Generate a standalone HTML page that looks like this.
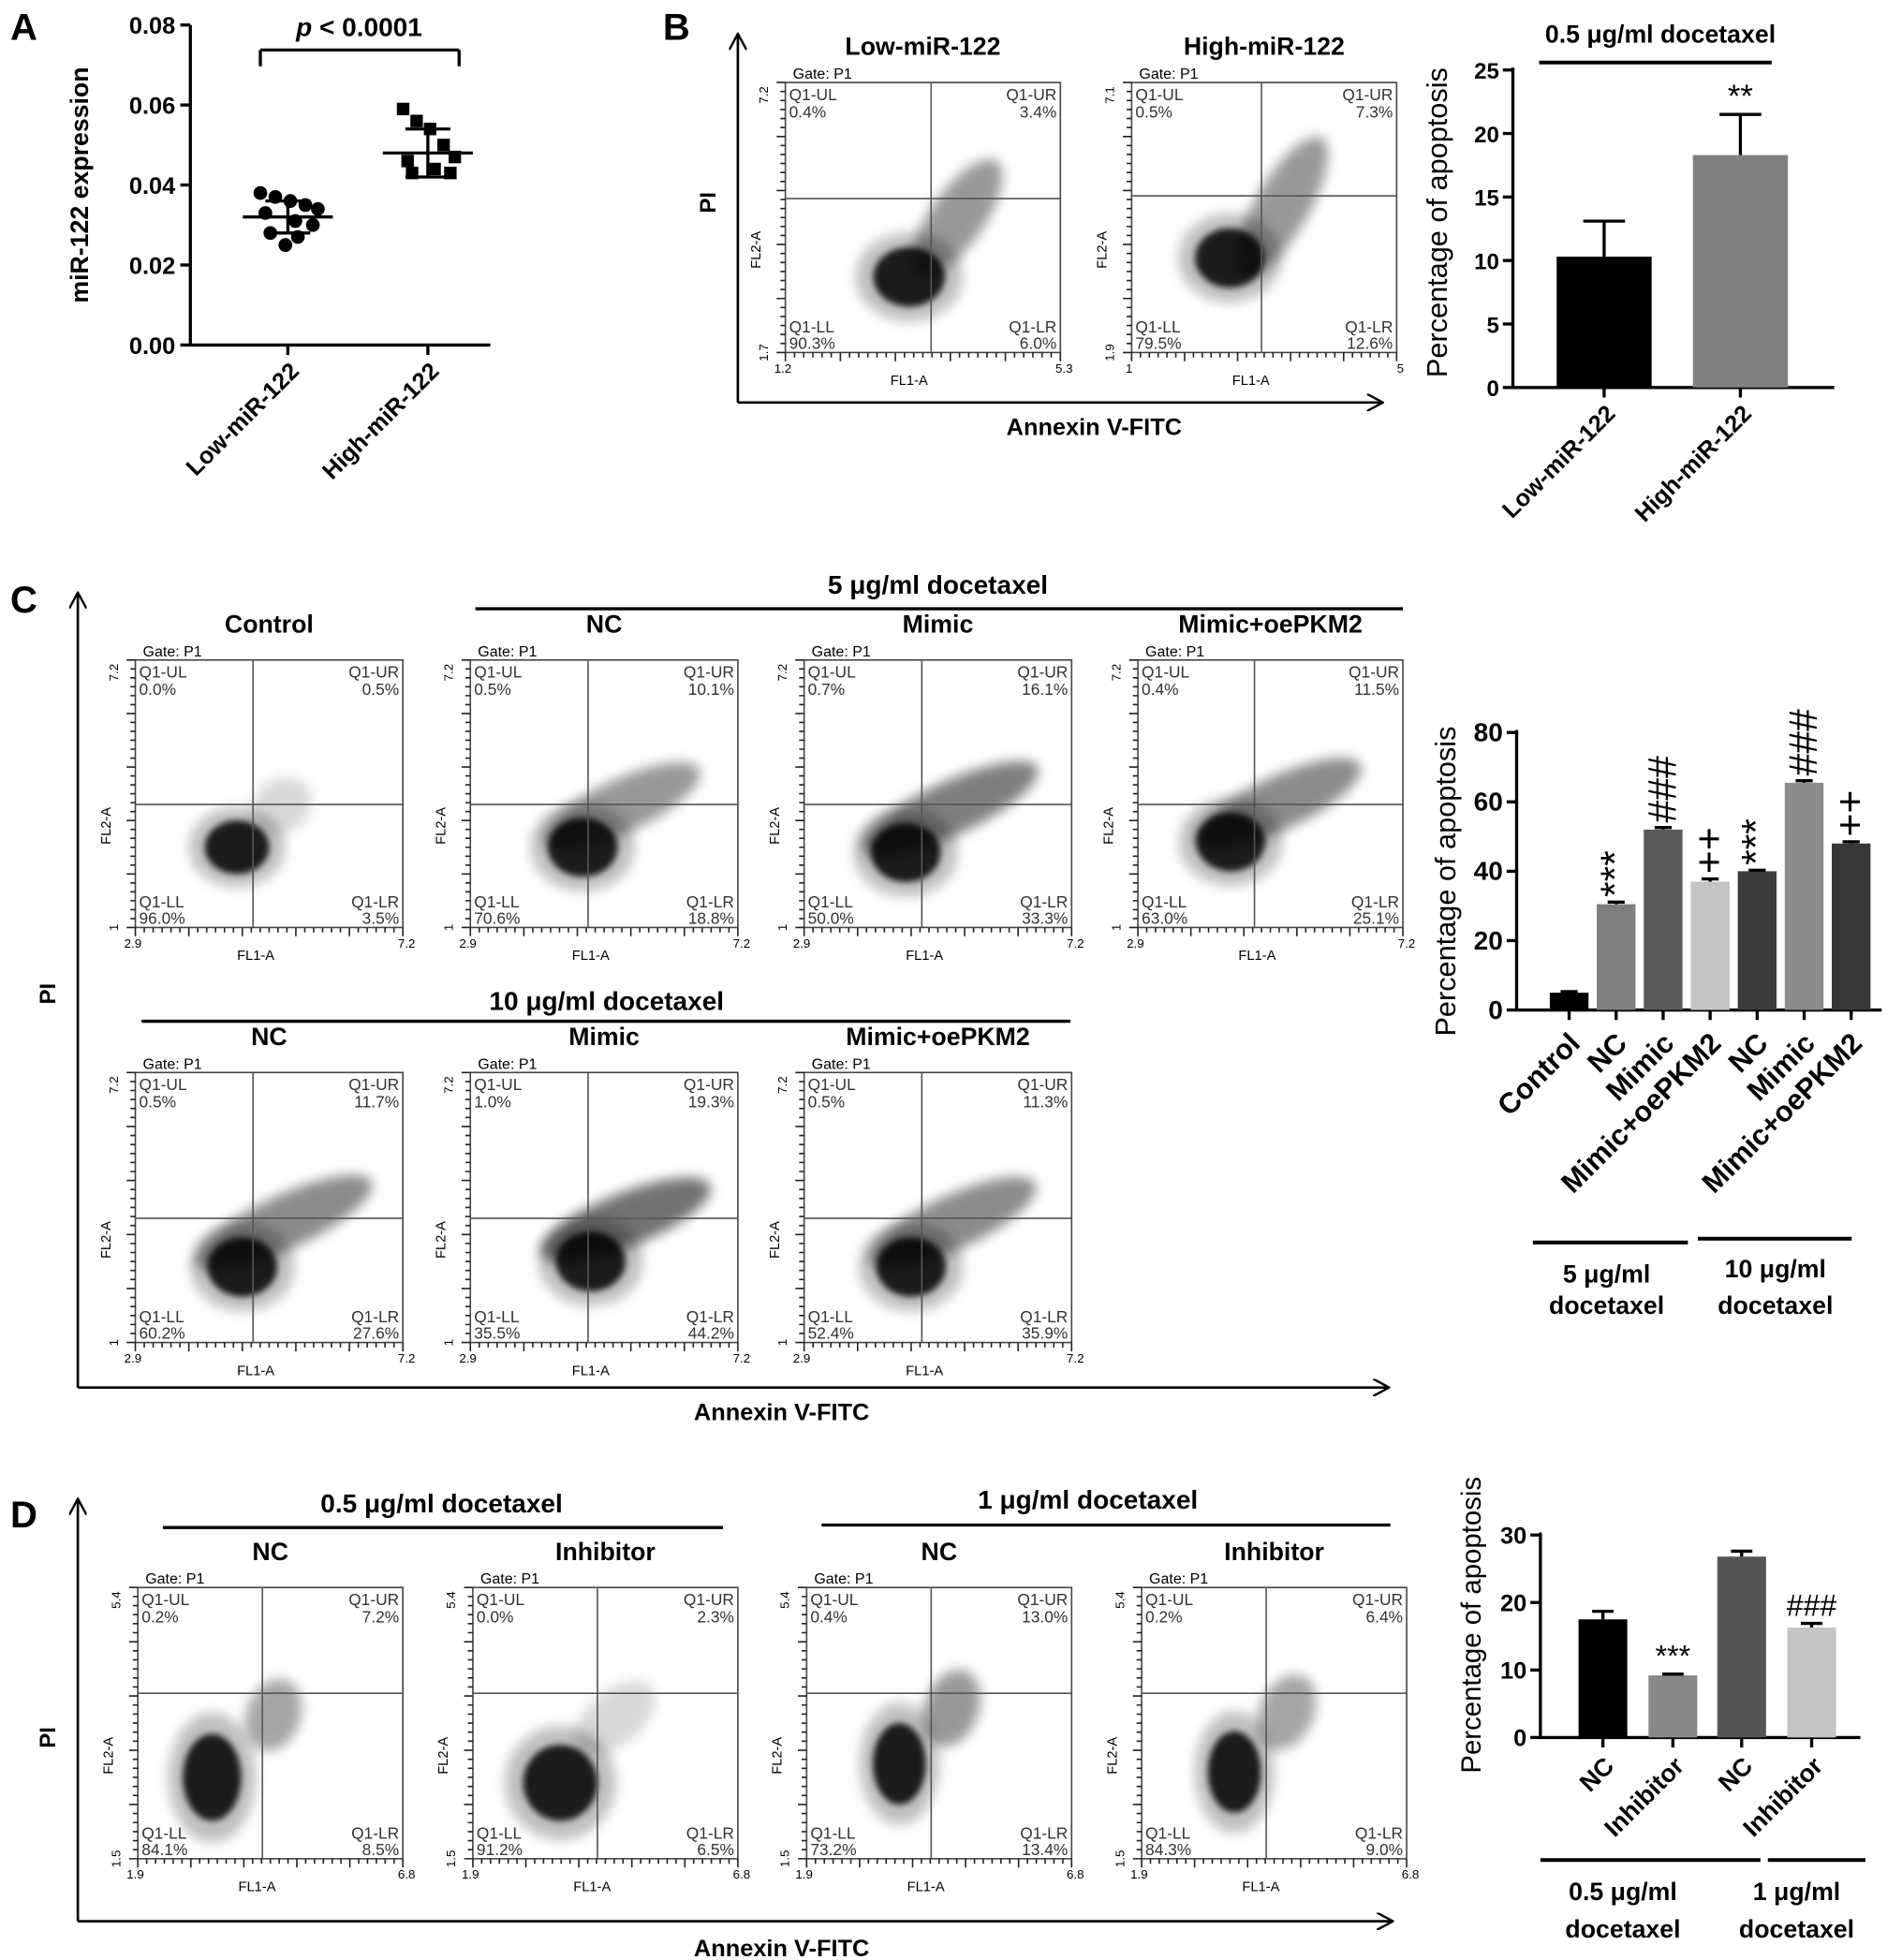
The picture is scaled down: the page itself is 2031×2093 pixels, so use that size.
<!DOCTYPE html>
<html><head><meta charset="utf-8"><style>
html,body{margin:0;padding:0;background:#fff}
svg{display:block;font-family:"Liberation Sans",Arial,sans-serif}
</style></head><body>
<svg id="fig" width="2031" height="2093" viewBox="0 0 1521 1568" xmlns="http://www.w3.org/2000/svg">
<defs>
<filter id="blur" x="-50%" y="-50%" width="200%" height="200%"><feGaussianBlur stdDeviation="5"/></filter>
<filter id="blur2" x="-50%" y="-50%" width="200%" height="200%"><feGaussianBlur stdDeviation="2.5"/></filter>
<marker id="arr" markerWidth="14" markerHeight="14" refX="12" refY="7" orient="auto" markerUnits="userSpaceOnUse"><path d="M0,0 L13,7 L0,14" fill="none" stroke="#000" stroke-width="1.8"/></marker>
</defs>
<g id="root"></g>
</svg>
<script>
// ---- Panel A data
const aGroups=['Low-miR-122','High-miR-122'];
const aLow=[0.038,0.037,0.036,0.035,0.034,0.033,0.031,0.030,0.028,0.027,0.025];
const aHigh=[0.059,0.056,0.054,0.050,0.047,0.046,0.044,0.043,0.043];
const aMean=[0.032,0.048];
const aSD=[0.004,0.006];
const aTicks=[0,0.02,0.04,0.06,0.08];
// ---- Panel B bar data
const bCats=['Low-miR-122','High-miR-122'];
const bVals=[10.3,18.3];
const bErr=[2.8,3.2];
const bTicks=[0,5,10,15,20,25];
// ---- Panel C bar data
const cCats=['Control','NC','Mimic','Mimic+oePKM2','NC','Mimic','Mimic+oePKM2'];
const cVals=[5,30.5,52,37,40,65.5,48];
const cErr=[0.3,0.6,0.6,0.8,0.3,0.6,0.5];
const cMarks=['','***','###','++','***','###','++'];
const cTicks=[0,20,40,60,80];
// ---- Panel D bar data
const dCats=['NC','Inhibitor','NC','Inhibitor'];
const dVals=[17.5,9.2,26.8,16.3];
const dErr=[1.2,0.2,0.8,0.6];
const dMarks=['','***','','###'];
const dTicks=[0,10,20,30];

const NS='http://www.w3.org/2000/svg';
const root=document.getElementById('root');
function el(tag,attrs,parent,text){const e=document.createElementNS(NS,tag);for(const k in attrs)e.setAttribute(k,attrs[k]);if(text!==undefined)e.textContent=text;(parent||root).appendChild(e);return e;}
function line(x1,y1,x2,y2,w,p,name){const e=el('line',{x1,y1,x2,y2,stroke:'#000','stroke-width':w||2},p);

return e;}
function txt(x,y,s,size,p,opt,name){opt=opt||{};const a={x,y,'font-size':size,'text-anchor':opt.anchor||'middle',fill:opt.fill||'#000'};if(opt.bold)a['font-weight']='bold';if(opt.rot)a.transform='rotate('+opt.rot+' '+x+' '+y+')';if(opt.italic)a['font-style']='italic';const e=el('text',a,p,s);

return e;}

[['A',8,32],['B',530,32],['C',8,490],['D',8,1222]].forEach(l=>txt(l[1],l[2],l[0],30,null,{bold:1,anchor:'start'},'panel-letter-'+l[0].toLowerCase()));

// ---- Panel A
(function(){
const g=el('g',{});
const x0=152,y0=276,yTop=20,xEnd=392;
const ys=v=>y0-(v/0.08)*(y0-yTop);
const xs=i=>[230,342][i];
line(x0,yTop,x0,y0+1,2.5,g,'y-axis');line(x0-1,y0,xEnd,y0,2.5,g,'x-axis');
aTicks.forEach(t=>{line(x0-8,ys(t),x0,ys(t),2.5,g,'y-tick');txt(x0-12,ys(t)+7,t.toFixed(2),19,g,{bold:1,anchor:'end'},'y-tick-label');});
aGroups.forEach((c,i)=>{line(xs(i),y0,xs(i),y0+8,2.5,g,'x-tick');txt(xs(i)+10,y0+22,c,19,g,{bold:1,anchor:'end',rot:-45},'x-tick-label');});
txt(70,148,'miR-122 expression',20,g,{bold:1,rot:-90},'y-axis-title');
const offs=[-22,-10,2,14,24,-18,6,20,-14,8,-2];
[aLow,aHigh].forEach((arr,i)=>arr.forEach((v,j)=>{const cx=xs(i)+offs[j%offs.length]*(i?0.9:1);
 if(i===0){const c=el('circle',{cx,cy:ys(v),r:5.5,fill:'#000'},g);}
 else{const r=el('rect',{x:cx-5,y:ys(v)-5,width:10,height:10,fill:'#000'},g);}}));
aMean.forEach((m,i)=>{const x=xs(i);line(x-36,ys(m),x+36,ys(m),2.5,g,'mean-line');line(x,ys(m-aSD[i]),x,ys(m+aSD[i]),2.5,g,'sd-bar');line(x-18,ys(m-aSD[i]),x+18,ys(m-aSD[i]),2.5,g,'sd-cap');line(x-18,ys(m+aSD[i]),x+18,ys(m+aSD[i]),2.5,g,'sd-cap');});
line(208,40,367,40,2.5,g,'significance-bracket');line(208,40,208,53,2.5,g,'bracket-leg');line(367,40,367,53,2.5,g,'bracket-leg');
const t=el('text',{x:287,y:29,'font-size':21,'font-weight':'bold','text-anchor':'middle'},g);
el('tspan',{'font-style':'italic'},t,'p');el('tspan',{},t,' < 0.0001');
})();

// ---- Flow plot helper
function flow(x,y,w,h,qxFrac,qyFrac,title,vals,xr,yr,shape,name){
 const g=el('g',{});
 if(title)txt(x+w/2,y-22,title,20,g,{bold:1},'flow-plot-title');
 txt(x+6,y-3,'Gate: P1',12,g,{anchor:'start'},'gate-label');
 const r=el('rect',{x,y,width:w,height:h,fill:'none',stroke:'#444','stroke-width':1.2},g);
 const qx=x+w*qxFrac,qy=y+h*qyFrac;
 const s=shape||{};
 const cx=x+w*(s.cx||0.33),cy=y+h*(s.cy||0.75);
 const gc=el('g',{},g);
 const tx=(cx+qx+w*0.18)/2+10,ty=(cy+qy-h*0.15)/2;
 el('ellipse',{cx:tx,cy:ty,rx:w*(s.tl||0.28),ry:h*0.10,transform:`rotate(${s.ang||-35} ${tx} ${ty})`,fill:'#000',opacity:s.to||0.35,filter:'url(#blur)'},gc);
 el('ellipse',{cx,cy,rx:w*(s.rx||0.13),ry:h*(s.ry||0.11),fill:'#000',opacity:0.85,filter:'url(#blur2)'},gc);
 el('ellipse',{cx,cy,rx:w*(s.rx||0.13)*1.5,ry:h*(s.ry||0.11)*1.5,fill:'#000',opacity:0.25,filter:'url(#blur)'},gc);
 line(qx,y,qx,y+h,1.2,g,'quadrant-vline').setAttribute('stroke','#555');
 line(x,qy,x+w,qy,1.2,g,'quadrant-hline').setAttribute('stroke','#555');
 const f=13;
 txt(x+3,y+14,'Q1-UL',f,g,{anchor:'start',fill:'#333'},'quadrant-label');txt(x+3,y+28,vals[0],f,g,{anchor:'start',fill:'#333'},'quadrant-value');
 txt(x+w-3,y+14,'Q1-UR',f,g,{anchor:'end',fill:'#333'},'quadrant-label');txt(x+w-3,y+28,vals[1],f,g,{anchor:'end',fill:'#333'},'quadrant-value');
 txt(x+3,y+h-16,'Q1-LL',f,g,{anchor:'start',fill:'#333'},'quadrant-label');txt(x+3,y+h-3,vals[2],f,g,{anchor:'start',fill:'#333'},'quadrant-value');
 txt(x+w-3,y+h-16,'Q1-LR',f,g,{anchor:'end',fill:'#333'},'quadrant-label');txt(x+w-3,y+h-3,vals[3],f,g,{anchor:'end',fill:'#333'},'quadrant-value');
 let dx='',dy='';
 for(let i=0;i<=30;i++){const tx2=x+w*i/30;dx+=`M${tx2},${y+h}v${i%6?4:7}`;const ty2=y+h*i/30;dy+=`M${x},${ty2}h${i%6?-4:-7}`;}
 const tk=el('path',{d:dx+dy,stroke:'#222','stroke-width':1.2,fill:'none'},g);
 txt(x-2,y+h+16,xr[0],10,g,{},'x-range-min');txt(x+w+3,y+h+16,xr[1],10,g,{},'x-range-max');
 txt(x-14,y+h,yr[0],10,g,{rot:-90},'y-range-min');txt(x-14,y+10,yr[1],10,g,{rot:-90},'y-range-max');
 txt(x+w*0.45,y+h+26,'FL1-A',11,g,{},'x-axis-label');
 txt(x-20,y+h*0.62,'FL2-A',11,g,{rot:-90},'y-axis-label');
 return g;
}
function arrowAxes(x,yTop,yBot,xEnd,name){const a=el('line',{x1:x,y1:yBot,x2:x,y2:yTop,stroke:'#000','stroke-width':2,'marker-end':'url(#arr)'});
const b=el('line',{x1:x,y1:yBot,x2:xEnd,y2:yBot,stroke:'#000','stroke-width':2,'marker-end':'url(#arr)'});}

// ---- Panel B flows
arrowAxes(590,28,322,1105,'panel-b');
txt(572,162,'PI',18,null,{bold:1,rot:-90},'pi-axis-title');
txt(875,348,'Annexin V-FITC',19,null,{bold:1},'annexin-axis-title');
flow(628,66,220,216,0.53,0.43,'Low-miR-122',['0.4%','3.4%','90.3%','6.0%'],['1.2','5.3'],['1.7','7.2'],{cx:0.45,cy:0.72,tl:0.25,ang:-55,to:0.4},'flow-low-mir122');
flow(905,66,212,216,0.49,0.42,'High-miR-122',['0.5%','7.3%','79.5%','12.6%'],['1','5'],['1.9','7.1'],{cx:0.37,cy:0.65,tl:0.3,ang:-60,to:0.4},'flow-high-mir122');

// ---- Bar chart helper
function bars(opt){
 const g=el('g',{});
 const ys=v=>opt.y0-(v/opt.max)*(opt.y0-opt.yTop);
 line(opt.x0,opt.yTop-2,opt.x0,opt.y0+1,2.5,g,'y-axis');line(opt.x0-1,opt.y0,opt.xEnd,opt.y0,2.5,g,'x-axis');
 opt.ticks.forEach(t=>{line(opt.x0-8,ys(t),opt.x0,ys(t),2.5,g,'y-tick');txt(opt.x0-11,ys(t)+7,String(t),opt.fs,g,{bold:1,anchor:'end'},'y-tick-label');});
 txt(opt.titleX,opt.titleY,'Percentage of apoptosis',opt.tfs,g,{rot:-90},'y-axis-title');
 opt.vals.forEach((v,i)=>{const cx=opt.x(i),w=opt.bw;
  const r=el('rect',{x:cx-w/2,y:ys(v),width:w,height:opt.y0-ys(v),fill:opt.colors[i]},g);
  
  
  const e=opt.err[i];line(cx,ys(v),cx,ys(v+e),2.5,g,'error-bar');line(cx-w*0.22,ys(v+e),cx+w*0.22,ys(v+e),2.5,g,'error-cap');
  line(cx,opt.y0,cx,opt.y0+8,2.5,g,'x-tick');
  txt(cx+opt.lo,opt.y0+opt.ly,opt.cats[i],opt.lfs,g,{bold:1,anchor:'end',rot:-45},'x-tick-label');
  const m=opt.marks?opt.marks[i]:'';
  if(m){if(opt.vertMarks)txt(cx+10,ys(v+e)-4,m,opt.mfs,g,{anchor:'start',rot:-90},'significance-mark');
   else txt(cx,ys(v+e)-6,m,opt.mfs,g,{},'significance-mark');}
 });
 return ys;
}
bars({name:'panel-b-bar-chart',x0:1210,xEnd:1467,yTop:56,y0:310,max:25,ticks:bTicks,vals:bVals,err:bErr,cats:bCats,colors:['#000','#808080'],
 x:i=>[1283,1392][i],bw:76,fs:18,tfs:23,titleX:1157,titleY:178,lo:10,ly:22,lfs:19,marks:['','**'],mfs:26});
txt(1328,34,'0.5 μg/ml docetaxel',20,null,{bold:1},'panel-b-condition-label');
line(1231,50,1417,50,3,null,'panel-b-condition-line');

// ---- Panel C flows
arrowAxes(62,475,1110,1110,'panel-c');
txt(44,795,'PI',18,null,{bold:1,rot:-90},'pi-axis-title');
txt(625,1136,'Annexin V-FITC',19,null,{bold:1},'annexin-axis-title');
txt(750,475,'5 μg/ml docetaxel',21,null,{bold:1},'panel-c-5ug-label');line(380,487,1122,487,2.5,null,'panel-c-5ug-line');
txt(485,808,'10 μg/ml docetaxel',21,null,{bold:1},'panel-c-10ug-label');line(113,817,856,817,2.5,null,'panel-c-10ug-line');
const cR=['2.9','7.2'],cY=['1','7.2'];
flow(108,528,214,214,0.44,0.54,'Control',['0.0%','0.5%','96.0%','3.5%'],cR,cY,{cx:0.38,cy:0.7,tl:0.12,to:0.15,rx:0.12,ry:0.1},'flow-control');
flow(376,528,214,214,0.44,0.54,'NC',['0.5%','10.1%','70.6%','18.8%'],cR,cY,{cx:0.42,cy:0.7,tl:0.32,to:0.4,ang:-25},'flow-5ug-nc');
flow(643,528,214,214,0.44,0.54,'Mimic',['0.7%','16.1%','50.0%','33.3%'],cR,cY,{cx:0.38,cy:0.72,tl:0.36,to:0.5,ang:-25},'flow-5ug-mimic');
flow(910,528,212,214,0.44,0.54,'Mimic+oePKM2',['0.4%','11.5%','63.0%','25.1%'],cR,cY,{cx:0.35,cy:0.68,tl:0.34,to:0.45,ang:-25},'flow-5ug-mimic-oepkm2');
flow(108,858,214,216,0.44,0.54,'NC',['0.5%','11.7%','60.2%','27.6%'],cR,cY,{cx:0.4,cy:0.72,tl:0.36,to:0.45,ang:-25},'flow-10ug-nc');
flow(376,858,214,216,0.44,0.54,'Mimic',['1.0%','19.3%','35.5%','44.2%'],cR,cY,{cx:0.45,cy:0.7,tl:0.34,to:0.55,ang:-22},'flow-10ug-mimic');
flow(643,858,214,216,0.44,0.54,'Mimic+oePKM2',['0.5%','11.3%','52.4%','35.9%'],cR,cY,{cx:0.4,cy:0.72,tl:0.34,to:0.45,ang:-25},'flow-10ug-mimic-oepkm2');

bars({name:'panel-c-bar-chart',x0:1213,xEnd:1505,yTop:586,y0:808,max:80,ticks:cTicks,vals:cVals,err:cErr,cats:cCats,colors:['#000','#808080','#5a5a5a','#c4c4c4','#3c3c3c','#8a8a8a','#383838'],
 x:i=>1255+i*37.6,bw:31,fs:21,tfs:23,titleX:1164,titleY:705,lo:10,ly:28,lfs:23,marks:cMarks,vertMarks:true,mfs:32});
line(1226,994,1350,994,3,null,'panel-c-5ug-group-line');line(1358,991,1481,991,3,null,'panel-c-10ug-group-line');
txt(1285,1026,'5 μg/ml',20,null,{bold:1},'group-label');txt(1285,1051,'docetaxel',20,null,{bold:1},'group-label');
txt(1420,1022,'10 μg/ml',20,null,{bold:1},'group-label');txt(1420,1051,'docetaxel',20,null,{bold:1},'group-label');

// ---- Panel D
arrowAxes(62,1200,1537,1113,'panel-d');
txt(44,1390,'PI',18,null,{bold:1,rot:-90},'pi-axis-title');
txt(625,1565,'Annexin V-FITC',19,null,{bold:1},'annexin-axis-title');
txt(353,1210,'0.5 μg/ml docetaxel',21,null,{bold:1},'panel-d-05ug-label');line(130,1222,578,1222,2.5,null,'panel-d-05ug-line');
txt(870,1207,'1 μg/ml docetaxel',21,null,{bold:1},'panel-d-1ug-label');line(657,1220,1112,1220,2.5,null,'panel-d-1ug-line');
const dR=['1.9','6.8'],dY=['1.5','5.4'];
flow(110,1270,212,217,0.47,0.39,'NC',['0.2%','7.2%','84.1%','8.5%'],dR,dY,{cx:0.28,cy:0.7,tl:0.14,to:0.35,ang:-70,rx:0.11,ry:0.16},'flow-05ug-nc');
flow(378,1270,212,217,0.47,0.39,'Inhibitor',['0.0%','2.3%','91.2%','6.5%'],dR,dY,{cx:0.33,cy:0.72,tl:0.18,to:0.15,ang:-40,rx:0.14,ry:0.14},'flow-05ug-inhibitor');
flow(645,1270,212,217,0.47,0.39,'NC',['0.4%','13.0%','73.2%','13.4%'],dR,dY,{cx:0.35,cy:0.65,tl:0.15,to:0.4,ang:-70,rx:0.1,ry:0.15},'flow-1ug-nc');
flow(913,1270,212,217,0.47,0.39,'Inhibitor',['0.2%','6.4%','84.3%','9.0%'],dR,dY,{cx:0.35,cy:0.68,tl:0.15,to:0.35,ang:-65,rx:0.1,ry:0.15},'flow-1ug-inhibitor');

bars({name:'panel-d-bar-chart',x0:1232,xEnd:1488,yTop:1228,y0:1390,max:30,ticks:dTicks,vals:dVals,err:dErr,cats:dCats,colors:['#000','#888','#555','#c4c4c4'],
 x:i=>[1282,1338,1393,1449][i],bw:39,fs:19,tfs:22,titleX:1184,titleY:1300,lo:10,ly:24,lfs:20,marks:dMarks,mfs:24});
line(1232,1488,1408,1488,3,null,'panel-d-05ug-group-line');line(1414,1488,1492,1488,3,null,'panel-d-1ug-group-line');
txt(1298,1520,'0.5 μg/ml',20,null,{bold:1},'group-label');txt(1298,1550,'docetaxel',20,null,{bold:1},'group-label');
txt(1437,1520,'1 μg/ml',20,null,{bold:1},'group-label');txt(1437,1550,'docetaxel',20,null,{bold:1},'group-label');
</script>
</body></html>
